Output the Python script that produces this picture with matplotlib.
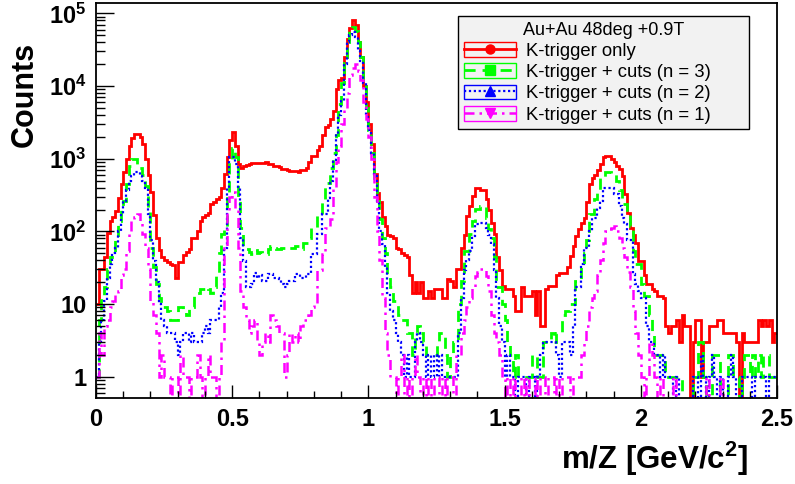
import numpy as np
import matplotlib
matplotlib.use("Agg")
import matplotlib.pyplot as plt
from matplotlib.patches import Rectangle
from matplotlib.lines import Line2D
from matplotlib.legend_handler import HandlerTuple
from matplotlib.ticker import FixedLocator, FixedFormatter, LogLocator, NullFormatter, MultipleLocator, FormatStrFormatter

plt.rcParams['font.family'] = ['Liberation Sans', 'DejaVu Sans']
plt.rcParams['mathtext.fontset'] = 'custom'
plt.rcParams['mathtext.rm'] = 'Liberation Sans:bold'
plt.rcParams['mathtext.bf'] = 'Liberation Sans:bold'
plt.rcParams['mathtext.it'] = 'Liberation Sans:bold'

# ---------------- data (counts per 0.01 GeV/c^2 bin, 0 .. 2.5) ----------------
x_min, x_max, n_bins = 0.0, 2.5, 250

k_trigger_only = [
    10, 30, 30, 45, 95, 140, 160, 190, 290, 450,
    650, 1000, 1500, 1900, 2200, 2200, 2000, 1600, 1000, 600,
    350, 170, 80, 55, 44, 40, 38, 36, 35, 23,
    38, 38, 48, 52, 58, 80, 80, 100, 140, 160,
    170, 180, 240, 250, 280, 300, 390, 620, 1050, 1800,
    2300, 1500, 850, 750, 800, 820, 850, 860, 860, 860,
    860, 880, 890, 850, 850, 800, 800, 760, 730, 730,
    700, 680, 670, 670, 660, 700, 700, 750, 890, 1100,
    1100, 1300, 1500, 2100, 2700, 2900, 3500, 4600, 9000, 12000,
    13000, 25000, 45000, 62000, 80000, 70000, 40000, 25000, 10000, 6000,
    3000, 1600, 620, 340, 250, 160, 120, 90, 87, 80,
    60, 58, 50, 48, 44, 25, 14, 20, 14, 20,
    12, 12, 15, 12, 16, 16, 16, 12, 12, 22,
    21, 17, 30, 30, 60, 90, 165, 225, 310, 390,
    390, 370, 370, 280, 195, 130, 92, 44, 29, 18,
    16, 16, 16, 13, 8, 8, 17, 13, 13, 13,
    15, 7, 15, 5, 5, 16, 18, 18, 18, 25,
    27, 27, 27, 32, 46, 63, 87, 108, 130, 155,
    250, 450, 550, 600, 690, 850, 1050, 1100, 1100, 1000,
    890, 800, 730, 580, 330, 180, 113, 90, 70, 39,
    39, 25, 19, 19, 16, 15, 13, 13, 12, 5,
    4, 5, 5, 6, 3, 7, 5, 5, 0, 3,
    6, 6, 1, 3, 3, 5, 5, 5, 6, 6,
    4, 4, 4, 4, 4, 3, 0, 4, 3, 3,
    3, 3, 3, 6, 5, 6, 5, 6, 3, 4,
]

cuts_n3 = [
    1, 6, 12, 17, 30, 45, 50, 75, 140, 195,
    265, 450, 800, 1000, 1000, 750, 750, 600, 420, 195,
    60, 32, 19, 12, 9, 9, 8, 6, 6, 6,
    9, 9, 8, 7, 9, 9, 14, 14, 16, 16,
    17, 16, 14, 17, 26, 50, 93, 110, 290, 950,
    1400, 1050, 290, 113, 63, 58, 52, 49, 55, 50,
    52, 49, 49, 58, 63, 60, 58, 58, 60, 60,
    58, 60, 60, 63, 63, 58, 70, 70, 82, 113,
    113, 175, 175, 265, 470, 470, 750, 1200, 2100, 5700,
    11000, 21000, 40000, 60000, 64000, 57000, 40000, 25000, 12000, 5000,
    2500, 1200, 550, 265, 150, 80, 50, 26, 17, 11,
    11, 7, 6, 6, 4, 4, 2, 4, 5, 4,
    3, 2, 2, 2, 2, 3, 4, 4, 2, 1,
    2, 3, 3, 10, 21, 54, 54, 93, 140, 205,
    205, 225, 225, 155, 108, 80, 44, 17, 17, 10,
    6, 3, 2, 1, 2, 1, 1, 1, 1, 1,
    2, 2, 1, 1, 3, 3, 3, 4, 3, 4,
    4, 7, 8, 8, 10, 10, 21, 21, 36, 50,
    75, 175, 175, 280, 370, 550, 550, 650, 650, 620,
    620, 500, 370, 240, 240, 195, 120, 54, 36, 36,
    19, 13, 13, 7, 4, 2, 2, 2, 2, 1,
    1, 1, 1, 1, 1, 0, 0, 0, 0, 1,
    1, 3, 3, 1, 0, 0, 2, 2, 2, 0,
    0, 0, 2, 2, 1, 1, 0, 1, 2, 2,
    1, 2, 1, 2, 1, 2, 2, 1, 1, 1,
]

cuts_n2 = [
    1, 3, 6, 11, 23, 36, 50, 60, 100, 175,
    265, 370, 500, 580, 650, 650, 580, 500, 400, 175,
    75, 39, 20, 10, 6, 5, 4, 4, 4, 3,
    2, 3, 4, 4, 3, 4, 3, 3, 3, 4,
    5, 4, 6, 6, 6, 9, 14, 60, 400, 1050,
    1050, 850, 400, 82, 39, 17, 17, 19, 27, 23,
    25, 21, 21, 26, 26, 23, 23, 22, 19, 17,
    19, 21, 21, 26, 26, 23, 23, 26, 26, 49,
    49, 93, 93, 175, 175, 290, 500, 950, 2200, 4000,
    6200, 20000, 40000, 50000, 55000, 48000, 30000, 22000, 11000, 3700,
    2500, 1200, 620, 265, 100, 67, 32, 14, 8, 6,
    4, 3, 2, 1, 2, 1, 1, 3, 4, 3,
    2, 1, 2, 1, 2, 1, 2, 1, 1, 1,
    1, 1, 1, 4, 12, 29, 40, 54, 87, 127,
    127, 130, 130, 113, 90, 67, 29, 12, 5, 3,
    1, 2, 1, 1, 0, 1, 1, 1, 0, 1,
    1, 0, 1, 2, 3, 3, 3, 3, 3, 2,
    1, 3, 3, 3, 2, 5, 17, 17, 36, 60,
    60, 100, 155, 155, 210, 265, 390, 390, 400, 390,
    330, 330, 225, 155, 127, 75, 75, 26, 19, 15,
    12, 12, 5, 3, 3, 2, 2, 1, 2, 1,
    1, 1, 0, 1, 0, 0, 0, 0, 0, 1,
    1, 0, 2, 1, 0, 1, 2, 1, 0, 1,
    0, 0, 1, 2, 1, 0, 0, 1, 1, 1,
    1, 0, 1, 1, 1, 1, 0, 1, 1, 1,
]

cuts_n1 = [
    1, 4, 2, 5, 6, 9, 11, 14, 15, 25,
    30, 54, 93, 150, 160, 175, 140, 93, 60, 30,
    11, 7, 4, 1, 2, 1, 1, 0, 1, 1,
    0, 2, 1, 1, 0, 1, 1, 2, 1, 0,
    1, 2, 1, 1, 0, 1, 3, 60, 200, 300,
    350, 200, 60, 15, 9, 6, 4, 5, 6, 3,
    2, 3, 4, 3, 7, 6, 5, 4, 4, 1,
    2, 4, 3, 4, 3, 5, 6, 6, 7, 9,
    10, 29, 29, 49, 113, 113, 150, 400, 900, 1500,
    3000, 5000, 8000, 14000, 18000, 20000, 16000, 12000, 6000, 3500,
    2000, 1000, 300, 100, 40, 12, 4, 2, 1, 1,
    0, 1, 2, 0, 1, 0, 1, 2, 1, 0,
    1, 0, 1, 0, 1, 1, 0, 1, 0, 1,
    1, 0, 2, 2, 4, 6, 9, 12, 17, 24,
    28, 30, 30, 24, 15, 7, 4, 3, 2, 1,
    0, 1, 0, 1, 0, 0, 1, 0, 1, 0,
    0, 1, 0, 1, 1, 0, 1, 1, 0, 1,
    0, 1, 1, 1, 0, 1, 1, 1, 2, 3,
    5, 9, 12, 15, 25, 40, 70, 100, 108, 110,
    120, 100, 82, 60, 45, 28, 17, 8, 4, 2,
    1, 0, 1, 3, 2, 1, 0, 1, 0, 0,
    0, 0, 1, 0, 0, 0, 0, 0, 0, 0,
    0, 0, 0, 0, 1, 0, 0, 0, 0, 1,
    0, 0, 0, 0, 0, 0, 0, 0, 0, 0,
    0, 0, 0, 0, 0, 0, 0, 0, 0, 0,
]

series_labels = ["K-trigger only", "K-trigger + cuts (n = 3)",
                 "K-trigger + cuts (n = 2)", "K-trigger + cuts (n = 1)"]
legend_header = "Au+Au 48deg +0.9T"
y_tick_values = [1, 10, 100, 1000, 10000, 100000]
y_tick_labels = ["1", "10", r"$10^{2}$", r"$10^{3}$", r"$10^{4}$", r"$10^{5}$"]
x_label = r"m/Z [GeV/c$^{2}$]"
y_label = "Counts"

# ---------------- styling ----------------
colors = ["#ff0000", "#00ff00", "#0000ff", "#ff00ff"]
linestyles = ["-", (0, (4, 2.5)), (0, (1, 1.2)), (0, (4, 2, 1, 2))]
linewidths = [2.0, 2.0, 1.6, 1.8]
markers = ["o", "s", "^", "v"]

fig = plt.figure(figsize=(7.95, 4.84), dpi=100)
ax = fig.add_axes([96 / 795, 1 - 398 / 484, 681 / 795, 395 / 484])

edges = np.linspace(x_min, x_max, n_bins + 1)
all_series = [k_trigger_only, cuts_n3, cuts_n2, cuts_n1]
handles = []
for vals, c, ls, lw, mk in zip(all_series, colors, linestyles, linewidths, markers):
    v = np.asarray(vals, dtype=float)
    v = np.where(v > 0, v, 1e-3)  # empty bins drop below the frame as in ROOT
    ax.stairs(v, edges, baseline=None, color=c, linestyle=ls, linewidth=lw)
    box = Rectangle((0, 0), 1, 1, facecolor="none", edgecolor=c, linewidth=1.0)
    ln = Line2D([], [], color=c, linestyle=ls, linewidth=lw, marker=mk,
                markersize=6.5, markerfacecolor=c, markeredgecolor=c)
    handles.append((box, ln))

ax.set_xlim(x_min, x_max)
ax.set_yscale("log")
ax.set_ylim(0.51, 1.39e5)

ax.xaxis.set_major_locator(MultipleLocator(0.5))
ax.xaxis.set_minor_locator(MultipleLocator(0.1))
ax.xaxis.set_major_formatter(FormatStrFormatter("%g"))
ax.yaxis.set_major_locator(FixedLocator(y_tick_values))
ax.yaxis.set_major_formatter(FixedFormatter(y_tick_labels))
ax.yaxis.set_minor_locator(LogLocator(base=10, subs=np.arange(2, 10)))
ax.yaxis.set_minor_formatter(NullFormatter())

ax.tick_params(axis="both", which="both", direction="in", top=False, right=False)
ax.tick_params(axis="x", which="major", length=9.5, width=1.0, pad=7, labelsize=17)
ax.tick_params(axis="x", which="minor", length=5, width=1.0)
ax.tick_params(axis="y", which="major", length=13, width=1.0, pad=7, labelsize=17)
ax.tick_params(axis="y", which="minor", length=6.5, width=1.0)
for lab in ax.get_xticklabels() + ax.get_yticklabels():
    lab.set_fontweight("bold")
for s in ax.spines.values():
    s.set_linewidth(1.3)

ax.set_xlabel(x_label, fontsize=22.5, fontweight="bold")
ax.xaxis.set_label_coords(0.957, -0.105)
ax.xaxis.label.set_ha("right")
ax.set_ylabel(y_label, fontsize=22, fontweight="bold")
ax.yaxis.set_label_coords(-0.082, 0.768)

x0 = (458 - 96) / 681
x1 = (749 - 96) / 681
y1 = (398 - 16) / 395
leg = ax.legend(handles, series_labels, loc="upper left",
                bbox_to_anchor=(x0, y1 - 0.3, x1 - x0, 0.3), mode="expand",
                borderaxespad=0, title=legend_header, fontsize=13.3, title_fontsize=13,
                handler_map={tuple: HandlerTuple(ndivide=1)},
                handlelength=2.85, handleheight=0.85, handletextpad=0.55,
                labelspacing=0.19, borderpad=0.3, numpoints=1,
                frameon=True, fancybox=False, edgecolor="black",
                facecolor="#f2f2f2", framealpha=1)
leg.get_frame().set_linewidth(1.0)

fig.savefig("out.png", dpi=100)
